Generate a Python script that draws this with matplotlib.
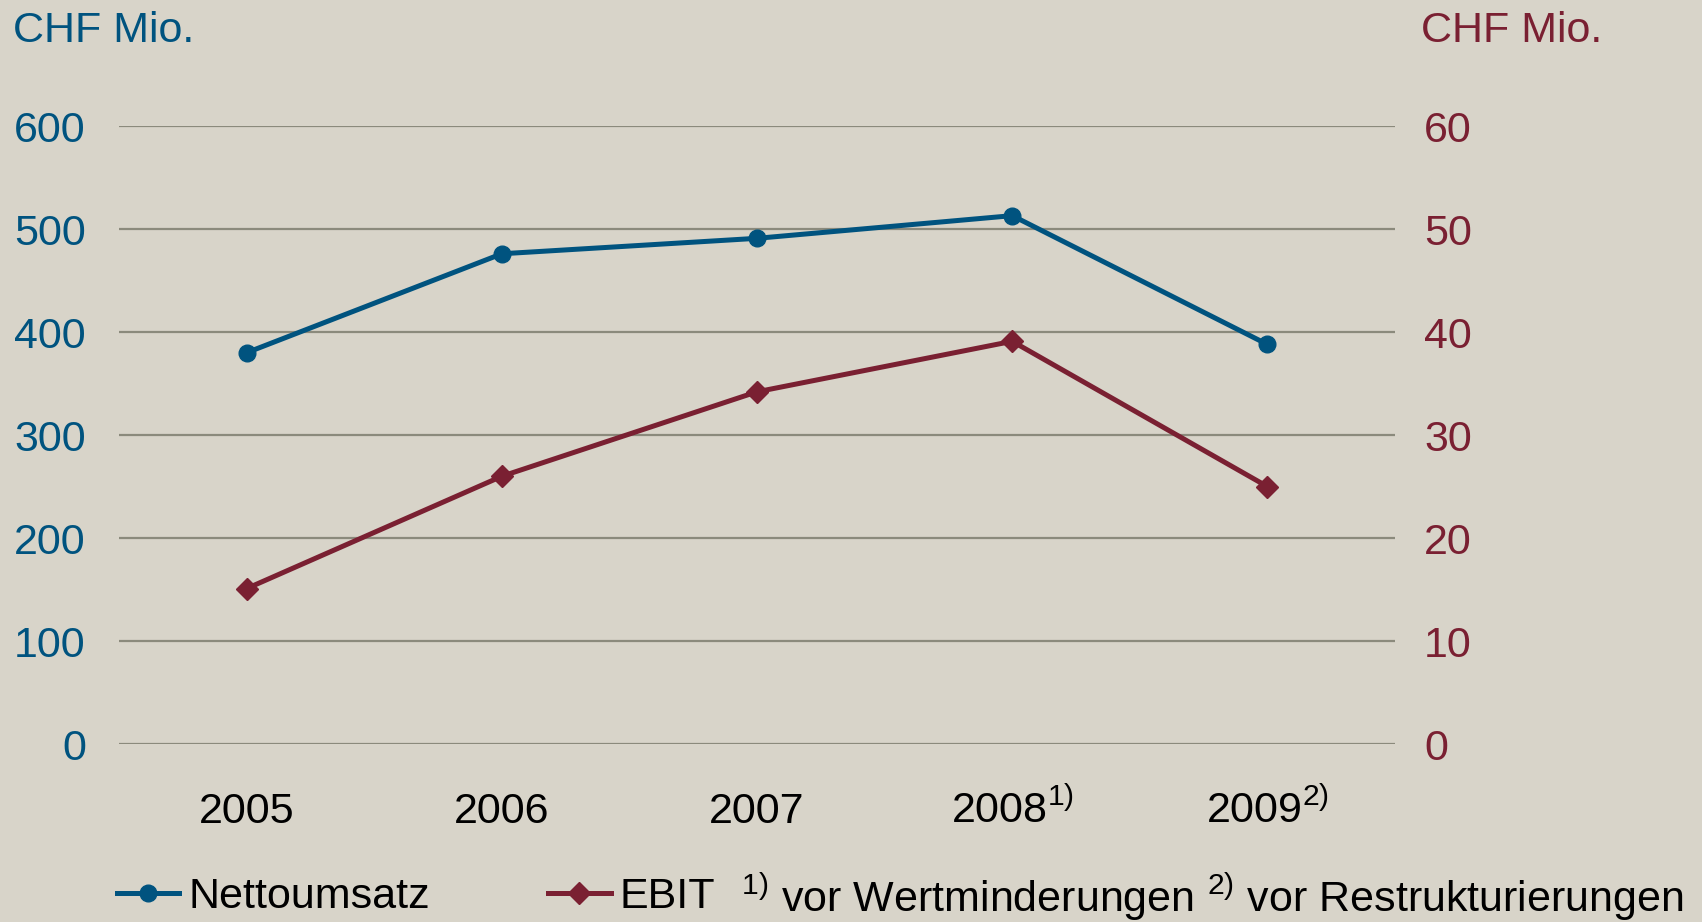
import matplotlib
matplotlib.use("Agg")
import matplotlib.pyplot as plt
from matplotlib.lines import Line2D
import matplotlib.transforms as mtransforms

plt.rcParams['font.family'] = ['Liberation Sans', 'DejaVu Sans']
plt.rcParams['mathtext.fontset'] = 'custom'
plt.rcParams['mathtext.rm'] = 'Liberation Sans'
plt.rcParams['mathtext.it'] = 'Liberation Sans:italic'

# data
years = ['2005', '2006', '2007', r'2008$^{\mathrm{1)}}$', r'2009$^{\mathrm{2)}}$']
nettoumsatz = [380, 476, 491, 513, 388]   # CHF Mio., left axis
ebit = [15.1, 26.0, 34.2, 39.1, 25.0]     # CHF Mio., right axis
left_ticks = [0, 100, 200, 300, 400, 500, 600]
right_ticks = [0, 10, 20, 30, 40, 50, 60]

bg = '#d8d4c9'
blue = '#00537f'
red = '#7a2032'
grid = '#8b8a7c'
fs = 31

fig = plt.figure(figsize=(17.02, 9.22), dpi=100, facecolor=bg)
ax = fig.add_axes([0.070, 0.193, 0.7496, 0.6703])
ax.set_facecolor(bg)
ax2 = ax.twinx()

x = list(range(len(years)))
ax.plot(x, nettoumsatz, color=blue, lw=3.6, marker='o', ms=12, zorder=3)
ax2.plot(x, ebit, color=red, lw=3.6, marker='D', ms=11, zorder=3)

ax.set_xlim(-0.5, 4.5)
ax.set_ylim(0, 600)
ax2.set_ylim(0, 60)
ax.set_yticks(left_ticks)
ax2.set_yticks(right_ticks)
ax.set_xticks(x)
ax.set_xticklabels([])
for a in (ax, ax2):
    for s in a.spines.values():
        s.set_visible(False)
ax.tick_params(axis='both', length=0)
ax2.tick_params(axis='both', length=0)
ax.tick_params(axis='y', labelsize=fs, labelcolor=blue, pad=24)
ax2.tick_params(axis='y', labelsize=fs, labelcolor=red, pad=21)
ax.yaxis.grid(True, color=grid, lw=1.6)
ax.set_axisbelow(True)

# category labels (with footnote superscripts)
trans = mtransforms.blended_transform_factory(ax.transData, ax.transAxes)
for xi, lab in zip(x, years):
    ax.text(xi, -0.128, lab, transform=trans, ha='center', va='baseline',
            fontsize=fs, color='black')

# unit labels
fig.text(13 / 1702, 1 - 42 / 922, 'CHF Mio.', fontsize=fs, color=blue, va='baseline')
fig.text(1421 / 1702, 1 - 42 / 922, 'CHF Mio.', fontsize=fs, color=red, va='baseline')

# legend and footnotes
handles = [Line2D([], [], color=blue, lw=3.6, marker='o', ms=12),
           Line2D([], [], color=red, lw=3.6, marker='D', ms=11)]
fig.legend(handles, ['Nettoumsatz', 'EBIT'], loc='center left',
           bbox_to_anchor=(117 / 1702, 1 - 897 / 922), ncol=2, frameon=False,
           fontsize=fs, borderpad=0, borderaxespad=0, handlelength=1.45,
           handletextpad=0.2, columnspacing=2.75)
fig.text(741 / 1702, 10 / 922,
         r'$^{\mathrm{1)}}$ vor Wertminderungen $^{\mathrm{2)}}$ vor Restrukturierungen',
         fontsize=fs, color='black', va='baseline')

fig.savefig('out.png', dpi=100, facecolor=bg)
